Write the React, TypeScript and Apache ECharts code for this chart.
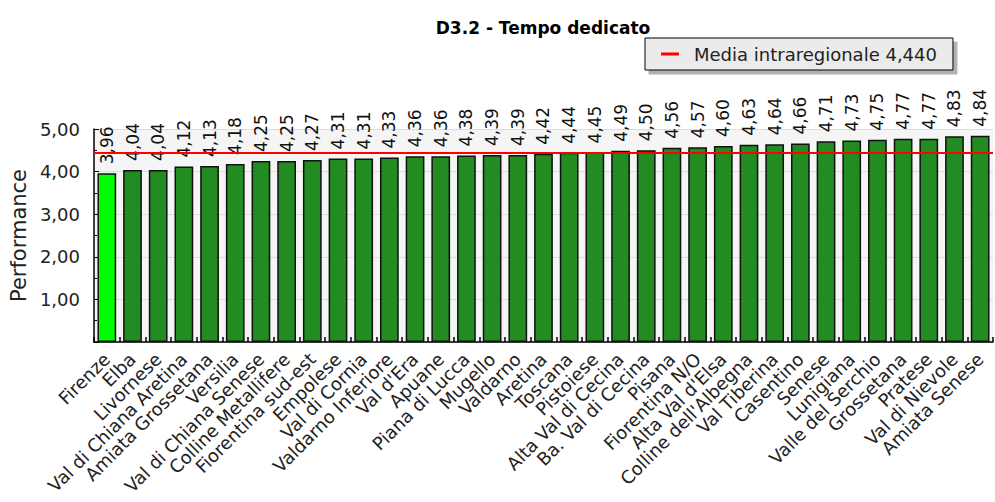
import React, { useEffect, useRef } from "react";
import * as echarts from "echarts";

const categories = [
  "Firenze", "Elba", "Livornese", "Val di Chiana Aretina", "Amiata Grossetana", "Versilia",
  "Val di Chiana Senese", "Colline Metallifere", "Fiorentina sud-est", "Empolese", "Val di Cornia",
  "Valdarno Inferiore", "Val d'Era", "Apuane", "Piana di Lucca", "Mugello", "Valdarno", "Aretina",
  "Toscana", "Pistoiese", "Alta Val di Cecina", "Ba. Val di Cecina", "Pisana", "Fiorentina N/O",
  "Alta Val d'Elsa", "Colline dell'Albegna", "Val Tiberina", "Casentino", "Senese", "Lunigiana",
  "Valle del Serchio", "Grossetana", "Pratese", "Val di Nievole", "Amiata Senese",
];

const values = [
  3.96, 4.04, 4.04, 4.12, 4.13, 4.18, 4.25, 4.25, 4.27, 4.31, 4.31, 4.33, 4.36, 4.36, 4.38, 4.39,
  4.39, 4.42, 4.44, 4.45, 4.49, 4.5, 4.56, 4.57, 4.6, 4.63, 4.64, 4.66, 4.71, 4.73, 4.75, 4.77,
  4.77, 4.83, 4.84,
];

const highlighted = ["Firenze"];
const mediaValue = 4.44;
const mediaName = "Media intraregionale 4,440";
const titleText = "D3.2 - Tempo dedicato";
const yAxisName = "Performance";

const fmt = (v: number) => v.toFixed(2).replace(".", ",");
const FONT = "DejaVu Sans";

export default function App() {
  const ref = useRef<HTMLDivElement>(null);
  useEffect(() => {
    if (!ref.current) return;
    const chart = echarts.init(ref.current, undefined, { renderer: "svg" });
    chart.setOption({
      animation: false,
      textStyle: { fontFamily: FONT },
      title: {
        text: titleText,
        left: 538,
        textAlign: "center",
        top: 14,
        textStyle: { fontFamily: FONT, fontSize: 17, fontWeight: "bold", color: "#000" },
      },
      legend: {
        left: 645,
        top: 38,
        padding: [7, 16, 7, 16],
        backgroundColor: "#ebebeb",
        borderColor: "#000",
        borderWidth: 1,
        shadowColor: "rgba(0,0,0,0.3)",
        shadowOffsetX: 4,
        shadowOffsetY: 4,
        shadowBlur: 0,
        itemWidth: 18,
        itemHeight: 3,
        itemGap: 10,
        icon: "rect",
        data: [{ name: mediaName, itemStyle: { color: "#ff0000" } }],
        textStyle: { fontFamily: FONT, fontSize: 18, color: "#222", padding: [0, 0, 0, 10] },
      },
      grid: {
        left: 88,
        right: 2,
        top: 129,
        bottom: 160,
        show: true,
        backgroundColor: "#f5f5f5",
        borderWidth: 0,
      },
      xAxis: {
        type: "category",
        data: categories,
        axisLine: { lineStyle: { color: "#000", width: 1.5 } },
        axisTick: { show: true, inside: true, length: 5, interval: 0, lineStyle: { color: "#000", width: 1.5 } },
        axisLabel: {
          interval: 0,
          rotate: 45,
          fontFamily: FONT,
          fontSize: 18,
          color: "#222",
          margin: 14,
        },
      },
      yAxis: {
        type: "value",
        min: 0,
        max: 5,
        interval: 1,
        name: yAxisName,
        nameLocation: "middle",
        nameGap: 62,
        nameTextStyle: { fontFamily: FONT, fontSize: 21, color: "#222" },
        axisLine: { show: true, lineStyle: { color: "#000", width: 1.5 } },
        axisTick: { show: true, inside: true, length: 5, lineStyle: { color: "#000" } },
        minorTick: { show: true, splitNumber: 2, length: 3, lineStyle: { color: "#000" } },
        splitLine: { show: true, lineStyle: { color: "#dcdcdc", width: 1 } },
        axisLabel: {
          fontFamily: FONT,
          fontSize: 18,
          color: "#222",
          margin: 14,
          formatter: (v: number) => (v === 0 ? "" : fmt(v)),
        },
      },
      series: [
        {
          type: "bar",
          data: values.map((v, i) => ({
            value: v,
            itemStyle: { color: highlighted.includes(categories[i]) ? "#00ff00" : "#228b22" },
          })),
          barCategoryGap: "27%",
          itemStyle: { borderColor: "#111", borderWidth: 1.5 },
          label: {
            show: true,
            position: "top",
            rotate: 90,
            align: "left",
            verticalAlign: "middle",
            distance: 9,
            fontFamily: FONT,
            fontSize: 17,
            color: "#111",
            formatter: (p: any) => fmt(p.value),
          },
          z: 2,
        },
        {
          type: "line",
          name: mediaName,
          data: [],
          itemStyle: { color: "#ff0000" },
          lineStyle: { color: "#ff0000" },
          markLine: {
            silent: true,
            symbol: "none",
            label: { show: false },
            lineStyle: { color: "#ff0000", width: 2, type: "solid" },
            data: [{ yAxis: mediaValue }],
          },
          z: 5,
        },
      ],
    });
    return () => chart.dispose();
  }, []);
  return (
    <div
      ref={ref}
      style={{ position: "absolute", left: 0, top: 0, width: 995, height: 502 }}
    />
  );
}
